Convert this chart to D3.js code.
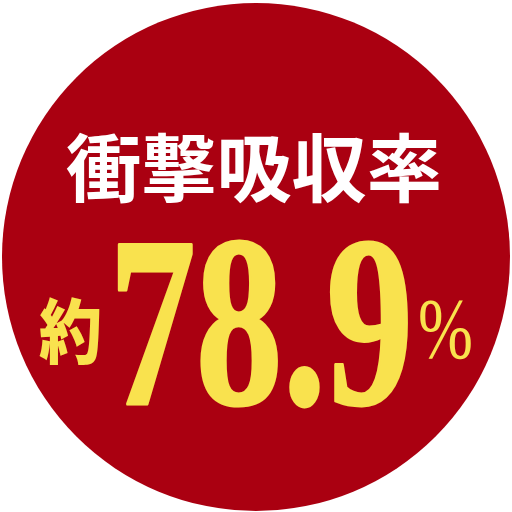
<!doctype html>
<html lang="ja">
<head>
    <meta charset="UTF-8" />
    <title>衝撃吸収率</title>
    <script src="https://d3js.org/d3.v7.min.js"></script>
    <style>
        body, html {
            margin: 0;
            padding: 0;
            background: #fff;
            overflow: hidden;
        }
        svg { display: block; }
    </style>
</head>
<body>
    <svg id="chart"></svg>
    <script>
        // badge content
        const titleText = ["衝撃吸収率"];
        const prefixText = ["約"];
        const values = [78.9];
        const suffixText = ["%"];

        const width = 512;
        const height = 512;
        const cx = width / 2;
        const cy = height / 2;

        const svg = d3.select("#chart")
            .attr("width", width)
            .attr("height", height);

        const red = "#aa0011";
        const yellow = "#f9e24e";

        svg.append("circle")
            .attr("cx", cx)
            .attr("cy", cy + 1)
            .attr("r", 254)
            .attr("fill", red);

        // title
        svg.selectAll("text.title")
            .data(titleText)
            .join("text")
            .attr("class", "title")
            .attr("x", 254)
            .attr("y", 196)
            .attr("text-anchor", "middle")
            .attr("font-family", "'Noto Sans CJK JP', sans-serif")
            .attr("font-weight", 700)
            .attr("font-size", 74)
            .attr("textLength", 376)
            .attr("lengthAdjust", "spacingAndGlyphs")
            .attr("fill", "#fff")
            .text(d => d);

        // prefix
        svg.selectAll("text.prefix")
            .data(prefixText)
            .join("text")
            .attr("class", "prefix")
            .attr("x", 39)
            .attr("y", 358)
            .attr("font-family", "'Noto Sans CJK JP', sans-serif")
            .attr("font-weight", 900)
            .attr("font-size", 70)
            .attr("textLength", 63)
            .attr("lengthAdjust", "spacingAndGlyphs")
            .attr("fill", yellow)
            .text(d => d);

        // big value
        const fmt = d3.format(".1f");
        svg.selectAll("text.value")
            .data(values)
            .join("text")
            .attr("class", "value")
            .attr("x", 109)
            .attr("y", 404)
            .attr("font-family", "'Liberation Serif', 'DejaVu Serif', serif")
            .attr("font-weight", 700)
            .attr("font-size", 244)
            .attr("textLength", 304)
            .attr("lengthAdjust", "spacingAndGlyphs")
            .attr("fill", yellow)
            .attr("stroke", yellow)
            .attr("stroke-width", 3)
            .attr("stroke-linejoin", "round")
            .text(d => fmt(d));

        // percent sign
        svg.selectAll("text.suffix")
            .data(suffixText)
            .join("text")
            .attr("class", "suffix")
            .attr("x", 418)
            .attr("y", 358)
            .attr("font-family", "'Liberation Serif', 'DejaVu Serif', serif")
            .attr("font-weight", 400)
            .attr("font-size", 86)
            .attr("textLength", 55)
            .attr("lengthAdjust", "spacingAndGlyphs")
            .attr("fill", yellow)
            .text(d => d);
    </script>
</body>
</html>
